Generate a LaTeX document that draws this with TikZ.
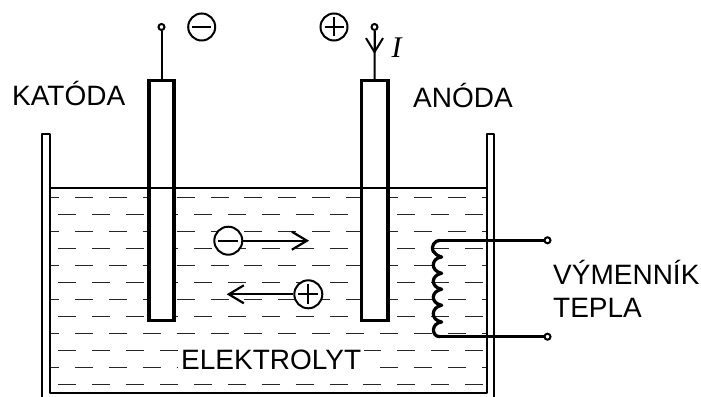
\documentclass[tikz,border=0pt]{standalone}
\usepackage{fontspec}
\setmainfont{Liberation Sans}
\newfontfamily\serifI{Liberation Serif}
\usepackage{tikz}
\usetikzlibrary{positioning, arrows.meta}

\begin{document}
\begin{tikzpicture}[x=1pt, y=-1pt, node distance=10pt and 10pt,
    electrode/.style={draw, line width=3.4pt, fill=white, inner sep=0pt, minimum height=239.5pt},
    vessel/.style={line width=2.2pt, line join=round},
    wave/.style={line width=0.9pt, color=black!85, dash pattern=on 18pt off 15.9pt},
    lead/.style={line width=2pt},
    coil/.style={line width=3.2pt, line join=round, line cap=round},
    terminal/.style={draw, circle, line width=2pt, fill=white, inner sep=0pt, minimum size=6pt},
    ion/.style={draw, circle, line width=2pt, fill=white, inner sep=0pt, minimum size=27pt},
    minussign/.style={ion, path picture={
        \draw[line width=2pt] ([xshift=4pt]path picture bounding box.west) -- ([xshift=-4pt]path picture bounding box.east);}},
    plussign/.style={ion, path picture={
        \draw[line width=2pt] ([xshift=4pt]path picture bounding box.west) -- ([xshift=-4pt]path picture bounding box.east);
        \draw[line width=2pt] ([yshift=-4pt]path picture bounding box.north) -- ([yshift=4pt]path picture bounding box.south);}},
    flow/.style={line width=2.2pt, -{Straight Barb[length=15pt, width=18pt, line width=2.2pt]}},
    txt/.style={anchor=base west, inner sep=0pt, font=\fontsize{28pt}{33pt}\selectfont}]

  \useasboundingbox (0,0) rectangle (701,396);

  \foreach \y in {197,231,265,299,333,367}
    \draw[wave, dash phase=9pt] (50,\y) -- (486,\y);
  \foreach \y in {214,248,282,316,350,384}
    \draw[wave] (58.3,\y) -- (486,\y);

  \node[electrode, minimum width=25pt] (cathode) at (161.5,200.5) {};
  \node[electrode, minimum width=26.5pt] (anode) at (374.7,200.5) {};

  \draw[vessel] (50,188) -- (487,188);
  \draw[vessel] (42,397) |- (50,134) -- (50,393) -- (487,393) -- (487,134) -- (494.3,134) -- (494.3,397);

  \node[terminal] (katterm) at (161.5,27) {};
  \node[terminal] (anterm) at (374.5,27) {};
  \coordinate (itip) at (374.5,54);
  \draw[lead] (katterm) -- (cathode.north);
  \draw[lead] (anterm) -- (anode.north);
  \draw[lead, -{Straight Barb[length=14pt, width=17pt, line width=2pt]}] (anterm) -- (itip);

  \node[minussign] (katsign) at (201.7,27) {};
  \node[plussign] (ansign) at (334,27) {};

  \node[minussign, minimum size=28pt] (anion) at (228.3,240.7) {};
  \node[plussign, minimum size=28pt] (kation) at (308.3,294.3) {};
  \coordinate (aniontip) at (309,240.7);
  \coordinate (kationtip) at (226.7,294.3);
  \draw[flow] (anion) -- (aniontip);
  \draw[flow] (kation) -- (kationtip);

  \node[terminal] (topterm) at (547.5,240.3) {};
  \node[terminal] (botterm) at (547.5,336.7) {};
  \coordinate (coiltop) at (440,240.3);
  \coordinate (coilbot) at (440,336.7);
  \draw[coil] (coiltop) .. controls (434,240.3) and (431,247) .. (433,251) .. controls (435,254) and (438,256) .. (441.7,257)
    .. controls (431,258) and (430,271) .. (441.7,273.3)
    .. controls (431,275) and (430,287) .. (441.7,289.3)
    .. controls (431,291) and (430,303) .. (441.7,305.3)
    .. controls (431,307) and (430,320) .. (441.7,322)
    .. controls (431,323) and (431,336.7) .. (coilbot);
  \draw[coil] (coiltop) -- (topterm);
  \draw[coil] (coilbot) -- (botterm);

  \node[txt] (katoda) at (12,105) {KATÓDA};
  \node[txt] (anoda) at (413,107) {ANÓDA};
  \node[txt, font=\fontsize{30pt}{30pt}\selectfont\serifI\itshape] (proud) at (391.5,57.5) {I};
  \node[txt, fill=white, inner xsep=3pt, inner ysep=5pt] (elektrolyt) at (178,369) {ELEKTROLYT};
  \node[txt, align=left] (vymennik) at (553,317) {VÝMENNÍK\\TEPLA};
\end{tikzpicture}
\end{document}
